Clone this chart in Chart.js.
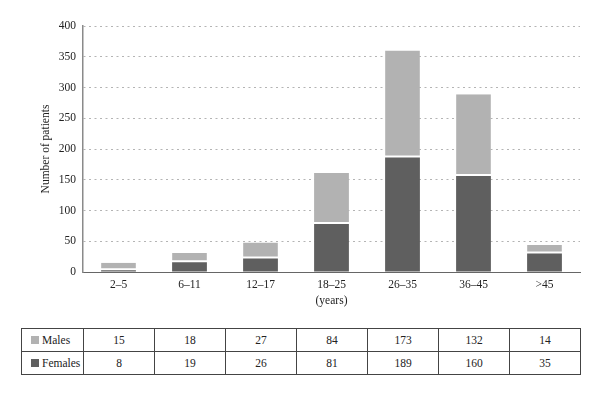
<!DOCTYPE html>
<html><head><meta charset="utf-8">
<script src="https://cdn.jsdelivr.net/npm/chart.js@4.4.0/dist/chart.umd.min.js"></script>
<style>
html,body{margin:0;padding:0;background:#fff;}
#wrap{position:relative;width:600px;height:395px;overflow:hidden;background:#fff;}
#cw{position:absolute;left:0;top:0;width:600px;height:310px;}
#tbl{position:absolute;top:328px;left:21px;border-collapse:collapse;font-family:"Liberation Serif","DejaVu Serif",serif;font-size:11.5px;color:#222;table-layout:fixed;}
#tbl td{border:1px solid #444;height:22px;padding:0;text-align:center;line-height:14px;}
#tbl td.lab{text-align:left;padding-left:9px;white-space:nowrap;}
.sw{display:inline-block;width:8px;height:8px;margin-right:3px;vertical-align:0px;}
</style></head>
<body><div id="wrap"><div id="cw"><canvas id="c"></canvas></div><table id="tbl"></table></div>
<script>
const categories = ['2–5','6–11','12–17','18–25','26–35','36–45','>45'];
const femalesBar = [3, 16, 22, 78, 186, 156, 30];
const malesBar = [12, 15, 26, 83, 174, 133, 14];
const malesTable = [15, 18, 27, 84, 173, 132, 14];
const femalesTable = [8, 19, 26, 81, 189, 160, 35];
const seriesNames = ['Males', 'Females'];
const yMin = 0, yMax = 400, yStep = 50;

const LIGHT = '#b2b2b2', DARK = '#5f5f5f';
const serif = '"Liberation Serif","DejaVu Serif",serif';

const chart = new Chart(document.getElementById('c'), {
  type: 'bar',
  data: {
    labels: categories,
    datasets: [
      { label: seriesNames[1], data: femalesBar, backgroundColor: DARK, borderWidth: 0,
        categoryPercentage: 1, barPercentage: 0.49 },
      { label: seriesNames[0], data: malesBar, backgroundColor: LIGHT, borderColor: '#ffffff',
        borderWidth: {top: 0, left: 0, right: 0, bottom: 2}, borderSkipped: false,
        categoryPercentage: 1, barPercentage: 0.49 }
    ]
  },
  options: {
    responsive: true, maintainAspectRatio: false, animation: false, devicePixelRatio: 1,
    layout: { padding: { left: 35, right: 20, top: 26, bottom: 2 } },
    plugins: { legend: { display: false }, tooltip: { enabled: false } },
    scales: {
      x: {
        stacked: true,
        grid: { display: false, drawTicks: false },
        border: { color: '#666', width: 1 },
        ticks: { color: '#222', font: { family: serif, size: 11.5 }, padding: 6 },
        title: { display: true, text: '(years)', color: '#222', font: { family: serif, size: 11.5 }, padding: { top: 0, bottom: 0 } },
        afterFit: s => { s.height = 36; }
      },
      y: {
        stacked: true, min: yMin, max: yMax,
        grid: { color: '#b4b4b4', lineWidth: 1, drawTicks: false },
        border: { color: '#8a8a8a', width: 1.5, dash: [2, 3.5] },
        ticks: { stepSize: yStep, color: '#222', font: { family: serif, size: 11.5 }, padding: 7 },
        title: { display: true, text: 'Number of patients', color: '#222', font: { family: serif, size: 11.5 }, padding: { top: 4, bottom: 0 } },
        afterFit: s => { s.width = 48; }
      }
    }
  }
});

// build data table aligned with category columns
(function buildTable() {
  const ca = chart.chartArea;
  const n = categories.length;
  const colW = (ca.right - ca.left) / n;
  const tbl = document.getElementById('tbl');
  const firstW = ca.left - 21;
  let html = '<colgroup><col style="width:' + firstW + 'px">';
  for (let i = 0; i < n; i++) html += '<col style="width:' + colW + 'px">';
  html += '</colgroup>';
  const rows = [[seriesNames[0], LIGHT, malesTable], [seriesNames[1], DARK, femalesTable]];
  rows.forEach(r => {
    html += '<tr><td class="lab"><span class="sw" style="background:' + r[1] + '"></span>' + r[0] + '</td>';
    r[2].forEach(v => { html += '<td>' + v + '</td>'; });
    html += '</tr>';
  });
  tbl.style.width = (firstW + colW * n) + 'px';
  tbl.innerHTML = html;
})();
</script>
</body></html>
